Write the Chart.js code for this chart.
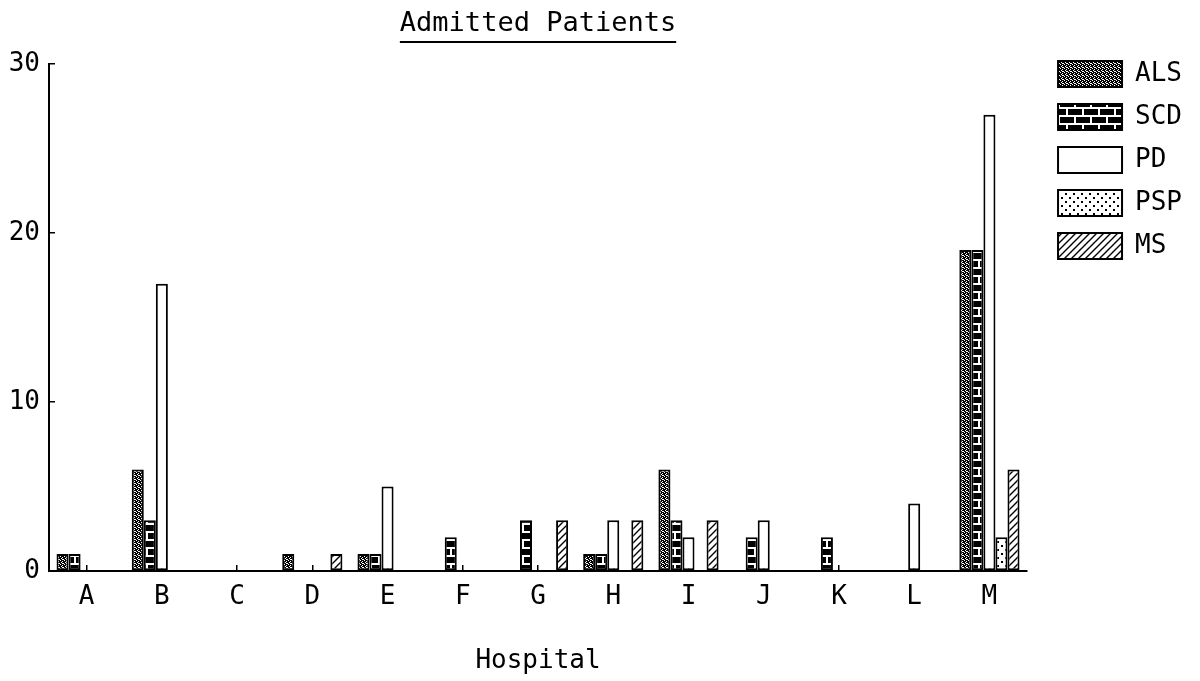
<!DOCTYPE html>
<html>
<head>
<meta charset="utf-8">
<title>Admitted Patients</title>
<script src="https://cdn.jsdelivr.net/npm/chart.js@4"></script>
<style>
  html, body { margin: 0; padding: 0; background: #fff; }
</style>
</head>
<body>
<canvas id="chart" width="1200" height="681"></canvas>
<script>
// values
const hospitals = ['A', 'B', 'C', 'D', 'E', 'F', 'G', 'H', 'I', 'J', 'K', 'L', 'M'];
const alsData = [1, 6, 0, 1, 1, 0, 0, 1, 6, 0, 0, 0, 19];
const scdData = [1, 3, 0, 0, 1, 2, 3, 1, 3, 2, 2, 0, 19];
const pdData  = [0, 17, 0, 0, 5, 0, 0, 3, 2, 3, 0, 4, 27];
const pspData = [0, 0, 0, 0, 0, 0, 0, 0, 0, 0, 0, 0, 2];
const msData  = [0, 0, 0, 1, 0, 0, 3, 3, 3, 0, 0, 0, 6];
const yTicks = [0, 10, 20, 30];

const FONT = 'DejaVu Sans Mono';

function makePattern(w, h, draw) {
    const c = document.createElement('canvas');
    c.width = w;
    c.height = h;
    const g = c.getContext('2d');
    draw(g, w, h);
    return g.createPattern(c, 'repeat');
}

// dark stipple
const alsFill = makePattern(4, 4, (g) => {
    g.fillStyle = '#000';
    g.fillRect(0, 0, 4, 4);
    g.fillStyle = '#fff';
    [[0, 0], [2, 1], [1, 2], [3, 3], [2, 3]].forEach(p => g.fillRect(p[0], p[1], 1, 1));
});
// black bricks, white mortar
const scdFill = makePattern(16, 16, (g) => {
    g.fillStyle = '#000';
    g.fillRect(0, 0, 16, 16);
    g.fillStyle = '#fff';
    g.fillRect(0, 3, 16, 2);
    g.fillRect(0, 11, 16, 2);
    g.fillRect(2, 5, 2, 6);
    g.fillRect(10, 13, 2, 3);
    g.fillRect(10, 0, 2, 3);
});
// sparse dots
const pspFill = makePattern(8, 8, (g) => {
    g.fillStyle = '#fff';
    g.fillRect(0, 0, 8, 8);
    g.fillStyle = '#000';
    g.fillRect(1, 1, 2, 2);
    g.fillRect(5, 5, 2, 2);
});
// diagonal hatch
const msFill = makePattern(7, 7, (g) => {
    g.fillStyle = '#fff';
    g.fillRect(0, 0, 7, 7);
    g.strokeStyle = '#000';
    g.lineWidth = 1.4;
    g.beginPath();
    g.moveTo(-1, 8); g.lineTo(8, -1);
    g.moveTo(-4, 4); g.lineTo(4, -4);
    g.moveTo(3, 11); g.lineTo(11, 3);
    g.stroke();
});

function bars(label, data, fill) {
    return {
        label: label,
        data: data,
        backgroundColor: fill,
        borderColor: '#000',
        borderWidth: 2,
        borderSkipped: false,
        categoryPercentage: 0.8,
        barPercentage: 1.0
    };
}

const underlineTitle = {
    id: 'underlineTitle',
    afterDraw(chart) {
        const ctx = chart.ctx;
        const a = chart.chartArea;
        ctx.save();
        ctx.font = '27px "' + FONT + '"';
        const w = ctx.measureText('Admitted Patients').width;
        const cx = (a.left + a.right) / 2;
        ctx.strokeStyle = '#000';
        ctx.lineWidth = 2;
        ctx.beginPath();
        ctx.moveTo(cx - w / 2, 42);
        ctx.lineTo(cx + w / 2, 42);
        ctx.stroke();
        ctx.restore();
    }
};

const ctx = document.getElementById('chart').getContext('2d');
new Chart(ctx, {
    type: 'bar',
    data: {
        labels: hospitals,
        datasets: [
            bars('ALS', alsData, alsFill),
            bars('SCD', scdData, scdFill),
            bars('PD', pdData, '#fff'),
            bars('PSP', pspData, pspFill),
            bars('MS', msData, msFill)
        ]
    },
    options: {
        responsive: false,
        animation: false,
        layout: { padding: { left: 0, right: 8, top: 0, bottom: 0 } },
        plugins: {
            title: {
                display: true,
                text: 'Admitted Patients',
                fullSize: false,
                color: '#000',
                font: { family: FONT, size: 27, weight: 'normal', lineHeight: 1.2 },
                padding: { top: 8, bottom: 23.6 }
            },
            legend: {
                position: 'right',
                align: 'start',
                title: {
                    display: true,
                    text: ' ',
                    font: { size: 10, lineHeight: 1.2 },
                    padding: { top: 16, bottom: 16 }
                },
                labels: {
                    boxWidth: 64,
                    boxHeight: 26,
                    padding: 17,
                    color: '#000',
                    font: { family: FONT, size: 26 }
                }
            },
            tooltip: { enabled: false }
        },
        scales: {
            x: {
                grid: { display: true, drawOnChartArea: false, drawTicks: true, tickLength: -6, offset: false, color: '#000', lineWidth: 1.5 },
                border: { display: true, color: '#000', width: 2 },
                ticks: { color: '#000', padding: 17, font: { family: FONT, size: 26 } },
                title: {
                    display: true,
                    text: 'Hospital',
                    color: '#000',
                    font: { family: FONT, size: 26, lineHeight: 1.2 },
                    padding: { top: 0, bottom: 4 }
                },
                afterFit(scale) { scale.height = 110; }
            },
            y: {
                min: 0,
                max: 30,
                afterBuildTicks(scale) { scale.ticks = yTicks.map(v => ({ value: v })); },
                grid: { display: true, drawOnChartArea: false, drawTicks: true, tickLength: -6, color: (c) => c.tick && c.tick.value === 0 ? 'rgba(0,0,0,0)' : '#000', lineWidth: 1.5 },
                border: { display: true, color: '#000', width: 2 },
                ticks: { color: '#000', padding: 15, font: { family: FONT, size: 26 } },
                afterFit(scale) { scale.width = 49; }
            },
            gap: {
                type: 'linear',
                position: 'right',
                grid: { display: false },
                border: { display: false },
                ticks: { display: false },
                afterFit(scale) { scale.width = 14; }
            }
        }
    },
    plugins: [underlineTitle]
});
</script>
</body>
</html>
